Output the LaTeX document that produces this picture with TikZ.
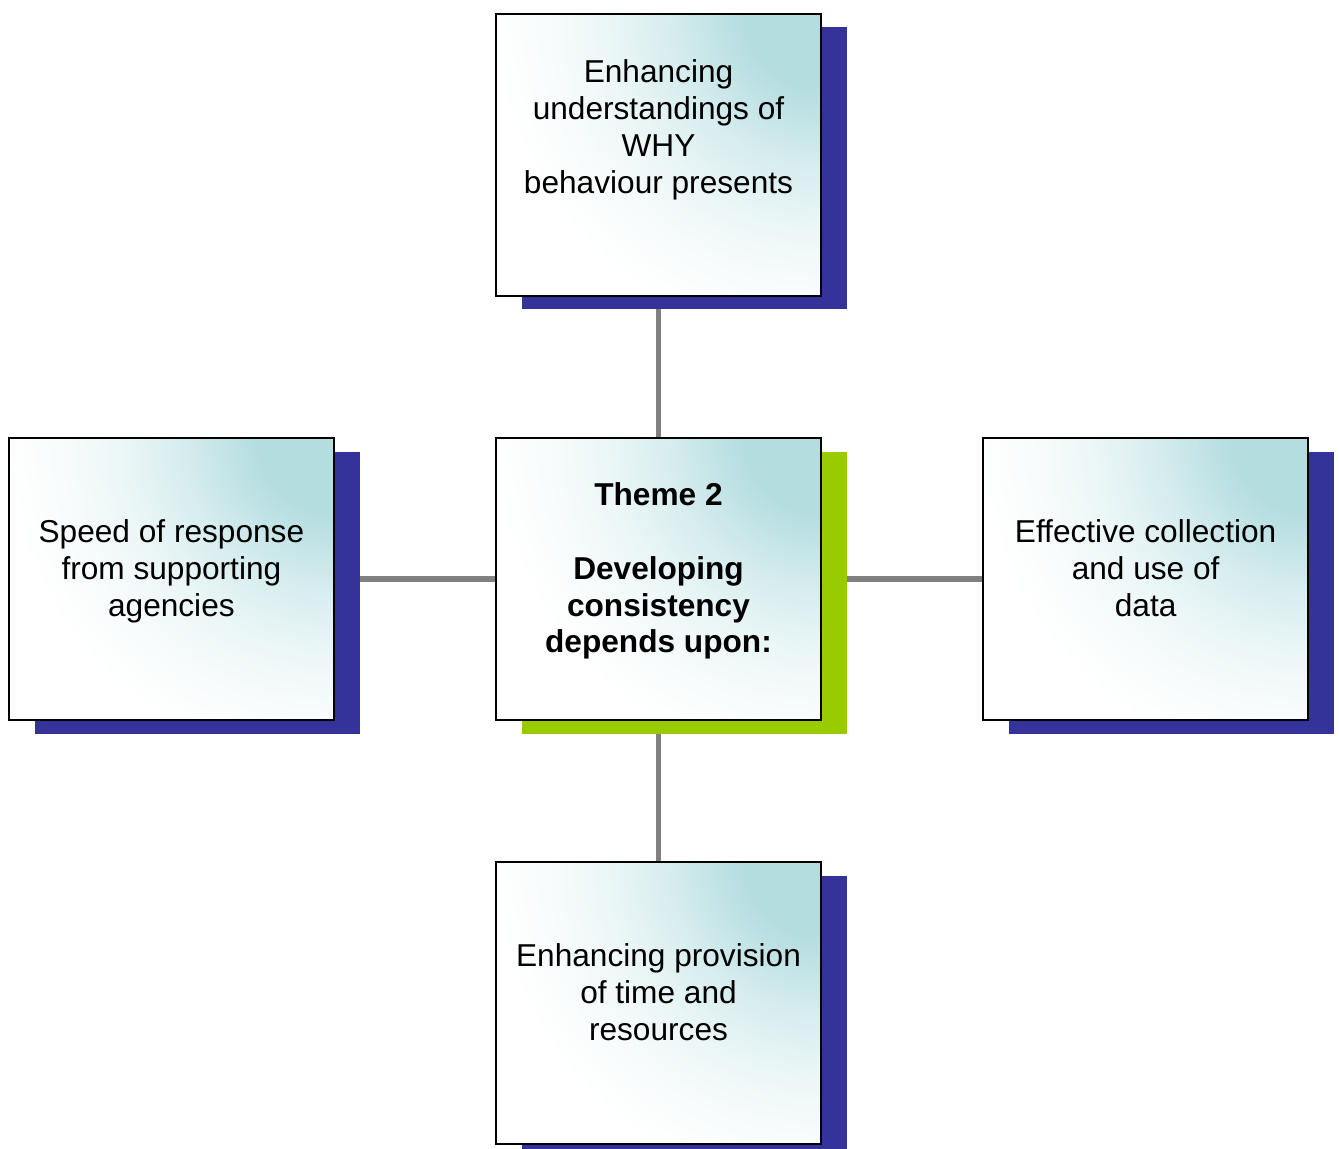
\documentclass[tikz,border=0pt]{standalone}
\usepackage{fontspec}
\setmainfont{Liberation Sans}
\usetikzlibrary{positioning,shadows,backgrounds}

\definecolor{boxteal}{RGB}{180,221,224}
\definecolor{shadeblue}{RGB}{51,51,153}
\definecolor{shadegreen}{RGB}{153,204,0}
\definecolor{linkgray}{RGB}{128,128,128}

% teal glow from the top right corner of each box
\pgfdeclareradialshading{cornerglow}{\pgfpointorigin}{color(0bp)=(boxteal); color(5.4bp)=(boxteal);
	color(10.7bp)=(boxteal!55); color(15.4bp)=(boxteal!25); color(20bp)=(boxteal!8);
	color(23.6bp)=(white); color(50bp)=(white)}

\begin{document}
\begin{tikzpicture}[
	themebox/.style={draw=black, line width=1.2pt, minimum width=6.5cm, minimum height=5.64cm, inner sep=0pt,
		fill=white, path picture={\shade[shading=cornerglow] (path picture bounding box.north east) circle (7cm);},
		drop shadow={shadow xshift=0.52cm, shadow yshift=-0.27cm, fill=#1, opacity=1}},
	themebox/.default=shadeblue,
	boxtext/.style={align=center, font=\fontsize{18}{21}\selectfont},
	link/.style={draw=linkgray, line width=3.4pt}]
\useasboundingbox (0,0) rectangle (26.78,-22.98);

\node[themebox=shadegreen] (mid) at (13.17,-11.58) {};
\node[themebox, above=2.8cm of mid] (top) {};
\node[themebox, below=2.8cm of mid] (bottom) {};
\node[themebox, left=3.2cm of mid] (left) {};
\node[themebox, right=3.2cm of mid] (right) {};

\node[boxtext] (midtext) at ([yshift=0.16cm]mid.center)
	{\textbf{Theme 2}\\[21pt]\textbf{Developing}\\\textbf{consistency}\\\textbf{depends upon:}};
\node[boxtext] (toptext) at ([yshift=0.5cm]top.center)
	{Enhancing\\understandings of\\WHY\\behaviour presents};
\node[boxtext] (bottomtext) at ([yshift=0.22cm]bottom.center)
	{Enhancing provision\\of time and\\resources};
\node[boxtext] (lefttext) at ([yshift=0.16cm]left.center)
	{Speed of response\\from supporting\\agencies};
\node[boxtext] (righttext) at ([yshift=0.22cm]right.center)
	{Effective collection\\and use of\\data};

\begin{scope}[on background layer]
\foreach \n in {top,bottom,left,right}{
	\draw[link] (mid) -- (\n);}
\end{scope}

\end{tikzpicture}
\end{document}
